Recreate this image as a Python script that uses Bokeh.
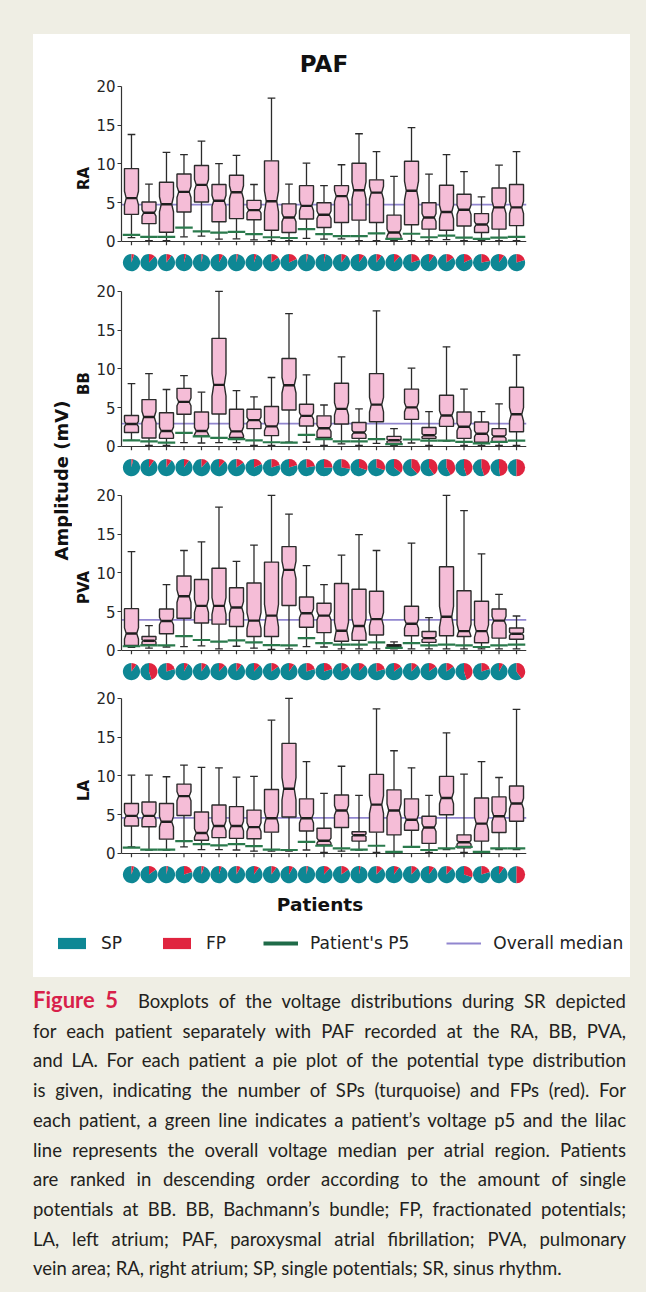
import numpy as np
from math import pi
from bokeh.plotting import figure
from bokeh.models import (FixedTicker, Legend, LegendItem, Label, Spacer, Div,
                          Range1d, Span, ColumnDataSource)
from bokeh.layouts import column, row
from bokeh.embed import file_html
from bokeh.resources import INLINE

# ---------------- data ----------------
patients = list(range(1, 24))

ra_wlo = [0.5, 0.1, 0.1, 0.6, 0.7, 0.3, 0.35, 0.2, 0.1, 0.1, 0.4, 0.3, 0.35, 0.1, 0.1, 0.1, 0.1, 0.1, 0.25, 0.1, 0.1, 0.1, 0.1]
ra_q1 = [3.5, 2.3, 1.2, 3.8, 5.1, 2.55, 2.95, 2.8, 1.45, 1.15, 2.9, 1.8, 2.45, 2.75, 2.45, 0.3, 2.15, 1.6, 1.45, 2.0, 1.15, 1.6, 2.05]
ra_med = [5.6, 3.7, 4.8, 6.4, 7.3, 5.25, 6.35, 4.05, 5.2, 3.1, 4.6, 3.45, 5.85, 6.6, 6.3, 1.15, 6.55, 3.1, 3.8, 4.1, 2.2, 4.4, 4.4]
ra_q3 = [9.4, 5.1, 7.65, 8.7, 9.8, 7.35, 8.55, 5.3, 10.4, 4.85, 7.2, 5.0, 7.2, 10.1, 7.95, 3.4, 10.35, 5.0, 7.25, 6.1, 3.6, 6.9, 7.35]
ra_whi = [13.8, 7.4, 11.5, 11.2, 12.95, 10.05, 11.1, 7.35, 18.5, 7.4, 10.1, 7.2, 9.9, 13.9, 11.6, 8.4, 14.7, 8.7, 11.2, 9.0, 5.75, 9.85, 11.6]
ra_p5 = [0.85, 0.6, 0.6, 1.8, 1.3, 1.15, 1.25, 0.95, 0.55, 0.45, 1.6, 0.95, 0.7, 0.7, 1.05, 0.35, 1.0, 0.55, 0.75, 0.5, 0.35, 0.5, 0.6]
ra_fp = [0.05, 0.12, 0.1, 0.04, 0.03, 0.08, 0.03, 0.05, 0.15, 0.18, 0.03, 0.03, 0.1, 0.1, 0.1, 0.12, 0.2, 0.1, 0.15, 0.18, 0.22, 0.1, 0.2]
ra_overall = 4.75

bb_wlo = [0.8, 0.15, 0.15, 0.5, 0.45, 0.5, 0.5, 0.15, 0.15, 0.55, 0.55, 0.15, 0.35, 0.15, 0.4, 0.15, 0.45, 0.15, 0.7, 0.15, 0.15, 0.15, 0.15]
bb_q1 = [1.8, 1.1, 1.05, 4.15, 1.35, 4.2, 1.15, 2.3, 1.4, 4.7, 2.65, 1.15, 2.9, 1.05, 3.2, 0.4, 3.5, 1.05, 2.6, 1.05, 0.55, 0.6, 1.9]
bb_med = [2.9, 3.8, 2.0, 5.75, 2.0, 7.95, 1.95, 3.4, 2.6, 7.9, 3.95, 2.35, 4.85, 1.8, 5.4, 0.8, 5.05, 1.45, 4.0, 2.55, 1.65, 1.3, 4.15]
bb_q3 = [4.0, 6.05, 4.35, 7.5, 4.45, 13.95, 4.8, 4.8, 5.15, 11.35, 5.45, 3.95, 8.15, 3.1, 9.4, 1.3, 7.4, 2.45, 6.6, 4.45, 3.15, 2.3, 7.65]
bb_whi = [8.1, 9.4, 7.35, 9.15, 7.0, 20.0, 7.2, 6.4, 8.9, 17.15, 9.25, 5.35, 11.55, 4.85, 17.5, 2.3, 10.1, 4.5, 12.85, 7.4, 4.5, 5.5, 11.8]
bb_p5 = [0.8, 0.65, 0.5, 1.75, 1.3, 1.1, 0.95, 0.8, 0.55, 0.5, 1.5, 0.95, 0.65, 0.65, 0.95, 0.3, 0.9, 0.75, 0.75, 0.6, 0.4, 0.6, 0.75]
bb_fp = [0.03, 0.1, 0.1, 0.1, 0.12, 0.12, 0.15, 0.18, 0.2, 0.2, 0.22, 0.25, 0.27, 0.3, 0.3, 0.35, 0.38, 0.4, 0.42, 0.45, 0.45, 0.48, 0.5]
bb_overall = 2.95

pva_wlo = [0.4, 0.3, 0.45, 0.5, 0.6, 0.2, 0.55, 0.3, 0.15, 0.2, 0.5, 0.45, 0.2, 0.2, 0.2, 0.2, 0.2, 0.2, 0.2, 0.2, 0.2, 0.2, 0.2]
pva_q1 = [0.65, 0.75, 2.15, 4.15, 3.55, 3.4, 3.1, 1.8, 1.8, 5.8, 3.0, 2.3, 1.2, 1.3, 2.0, 0.35, 1.9, 1.05, 1.9, 1.8, 1.0, 1.6, 1.45]
pva_med = [2.2, 1.25, 3.8, 7.0, 5.75, 5.75, 5.55, 3.85, 4.5, 10.4, 4.8, 4.5, 2.55, 3.15, 4.05, 0.55, 3.45, 1.6, 4.35, 2.5, 2.5, 3.85, 2.15]
pva_q3 = [5.4, 1.8, 5.35, 9.6, 9.15, 10.6, 8.1, 8.7, 11.4, 13.4, 6.9, 6.1, 8.65, 7.9, 7.65, 0.75, 5.7, 2.45, 10.8, 7.7, 6.35, 5.35, 2.9]
pva_whi = [12.75, 3.2, 8.5, 12.9, 14.0, 18.5, 11.5, 13.6, 20.0, 17.6, 10.95, 8.5, 12.3, 14.95, 12.9, 1.1, 13.85, 4.25, 20.0, 18.05, 12.45, 7.25, 4.45]
pva_p5 = [0.55, 0.65, 0.65, 1.85, 1.35, 1.15, 1.3, 1.05, 0.7, 0.65, 1.6, 0.95, 0.75, 0.75, 1.05, 0.35, 0.95, 0.65, 0.75, 0.65, 0.45, 0.65, 0.75]
pva_fp = [0.1, 0.45, 0.2, 0.08, 0.1, 0.12, 0.1, 0.12, 0.15, 0.1, 0.2, 0.2, 0.15, 0.12, 0.2, 0.15, 0.12, 0.15, 0.15, 0.45, 0.2, 0.08, 0.4]
pva_overall = 3.95

la_wlo = [0.85, 0.45, 0.45, 0.85, 0.5, 0.5, 0.45, 0.3, 0.3, 0.3, 0.45, 0.15, 0.3, 0.45, 0.15, 0.15, 0.85, 0.15, 0.5, 0.15, 0.15, 0.5, 0.5]
la_q1 = [3.55, 3.45, 1.85, 4.9, 1.7, 2.05, 1.95, 1.9, 2.75, 4.7, 2.9, 1.1, 3.35, 1.6, 2.75, 2.4, 3.0, 1.3, 5.0, 0.75, 1.6, 2.7, 4.15]
la_med = [4.85, 4.85, 4.1, 7.4, 2.65, 3.55, 3.55, 3.4, 4.55, 8.35, 4.55, 1.65, 5.55, 2.35, 6.3, 5.55, 4.35, 3.35, 7.15, 1.45, 3.85, 4.8, 6.45]
la_q3 = [6.45, 6.65, 6.45, 8.95, 5.35, 6.25, 6.05, 5.6, 8.25, 14.2, 7.05, 3.25, 7.55, 2.8, 10.2, 8.2, 7.05, 4.8, 9.95, 2.4, 7.15, 7.3, 8.7]
la_whi = [10.1, 10.1, 9.9, 11.4, 11.1, 11.05, 9.85, 9.95, 17.2, 20.0, 11.85, 7.75, 11.25, 7.5, 18.65, 13.25, 11.05, 7.5, 15.55, 10.25, 11.85, 9.8, 18.6]
la_p5 = [0.75, 0.5, 0.5, 1.6, 1.2, 1.05, 1.2, 0.95, 0.5, 0.45, 1.5, 1.0, 0.65, 0.5, 1.0, 0.2, 0.85, 0.45, 0.65, 0.85, 0.2, 0.65, 0.65]
la_fp = [0.05, 0.15, 0.03, 0.2, 0.05, 0.05, 0.08, 0.1, 0.1, 0.08, 0.03, 0.12, 0.15, 0.03, 0.12, 0.1, 0.12, 0.1, 0.12, 0.3, 0.2, 0.1, 0.5]
la_overall = 4.6

regions = ["RA", "BB", "PVA", "LA"]
y_ticks = [0, 5, 10, 15, 20]
legend_labels = ["SP", "FP", "Patient's P5", "Overall median"]

caption_lines = [
    "Boxplots of the voltage distributions during SR depicted",
    "for each patient separately with PAF recorded at the RA, BB, PVA,",
    "and LA. For each patient a pie plot of the potential type distribution",
    "is given, indicating the number of SPs (turquoise) and FPs (red). For",
    "each patient, a green line indicates a patient\u2019s voltage p5 and the lilac",
    "line represents the overall voltage median per atrial region. Patients",
    "are ranked in descending order according to the amount of single",
    "potentials at BB. BB, Bachmann\u2019s bundle; FP, fractionated potentials;",
    "LA, left atrium; PAF, paroxysmal atrial fibrillation; PVA, pulmonary",
    "vein area; RA, right atrium; SP, single potentials; SR, sinus rhythm.",
]

# ---------------- styles ----------------
PINK = "#f5bdd7"
EDGE = "#2b2b2b"
TEAL = "#0e8794"
RED = "#e0243f"
GREEN = "#2a7a4c"
LILAC = "#9186cf"
BEIGE = "#efeee4"
FONT = "DejaVu Sans"

series = {
    "RA": (ra_wlo, ra_q1, ra_med, ra_q3, ra_whi, ra_p5, ra_fp, ra_overall),
    "BB": (bb_wlo, bb_q1, bb_med, bb_q3, bb_whi, bb_p5, bb_fp, bb_overall),
    "PVA": (pva_wlo, pva_q1, pva_med, pva_q3, pva_whi, pva_p5, pva_fp, pva_overall),
    "LA": (la_wlo, la_q1, la_med, la_q3, la_whi, la_p5, la_fp, la_overall),
}

HW = 0.40      # box half width
NW = 0.30      # half width at the notch
CW = 0.22      # whisker cap half width
NOTCH = 0.15   # notch half height relative to the IQR
TICK = 0.5     # x tick length (data units, ~4px)
PIE_Y = -2.72  # pie row position below the axis
FRAME_W, FRAME_H = 405, 188
LEFT_B, RIGHT_B = 45, 104
AMP_W = 39
WHITE_W = 593


def make_panel(name, top_border, title=None):
    wlo, q1, med, q3, whi, p5, fp, overall = series[name]
    x = np.arange(len(patients), dtype=float)
    kw = dict(frame_width=FRAME_W, frame_height=FRAME_H,
              x_range=Range1d(-0.57, len(patients) - 1 + 0.57),
              y_range=Range1d(-4.0, 20.25),
              min_border_left=LEFT_B, min_border_right=RIGHT_B,
              min_border_top=top_border, min_border_bottom=8,
              toolbar_location=None, output_backend="svg",
              background_fill_color="white", border_fill_color="white")
    if title:
        kw["title"] = title
    p = figure(**kw)
    p.grid.visible = False
    p.outline_line_color = None
    if title:
        p.title.align = "center"
        p.title.text_font = FONT
        p.title.text_font_size = "23px"
        p.title.text_font_style = "bold"
        p.title.text_color = "#111111"
        p.title.standoff = 15

    p.add_layout(Span(location=overall, dimension="width", line_color=LILAC,
                      line_width=1.6, level="underlay"))

    # x tick marks below the axis
    p.segment(x0=x, y0=0, x1=x, y1=-TICK, line_color="#333333", line_width=1.2)

    # whiskers and caps
    p.segment(x0=x, y0=q3, x1=x, y1=whi, line_color=EDGE, line_width=1.3)
    p.segment(x0=x, y0=q1, x1=x, y1=wlo, line_color=EDGE, line_width=1.3)
    p.segment(x0=x - CW, y0=whi, x1=x + CW, y1=whi, line_color=EDGE, line_width=1.3)
    p.segment(x0=x - CW, y0=wlo, x1=x + CW, y1=wlo, line_color=EDGE, line_width=1.3)

    # notched boxes
    xs, ys = [], []
    for xi, a, m, b in zip(x, q1, med, q3):
        n = NOTCH * (b - a)
        lo, hi = max(m - n, a), min(m + n, b)
        xs.append([xi - HW, xi + HW, xi + HW, xi + NW, xi + HW, xi + HW,
                   xi - HW, xi - HW, xi - NW, xi - HW])
        ys.append([a, a, lo, m, hi, b, b, hi, m, lo])
    p.patches(xs=xs, ys=ys, fill_color=PINK, line_color=EDGE, line_width=1.4)
    p.segment(x0=x - NW, y0=med, x1=x + NW, y1=med, line_color="#1e1e1e", line_width=2.4)

    # patient's p5
    p.segment(x0=x - 0.5, y0=p5, x1=x + 0.5, y1=p5, line_color=GREEN, line_width=2.2)

    # pies: FP (red) clockwise from 12 o'clock, SP (teal) the rest
    fpa = np.array(fp)
    ang_split = pi / 2 - 2 * pi * fpa
    p.wedge(x=x, y=PIE_Y, radius=8.6, radius_units="screen",
            start_angle=np.full(len(x), pi / 2), end_angle=ang_split + 2 * pi,
            fill_color=TEAL, line_color=None)
    p.wedge(x=x, y=PIE_Y, radius=8.6, radius_units="screen",
            start_angle=ang_split, end_angle=np.full(len(x), pi / 2),
            fill_color=RED, line_color=None)

    # axes
    ya = p.yaxis[0]
    ya.ticker = FixedTicker(ticks=y_ticks)
    ya.bounds = (0, 20)
    ya.axis_label = name
    ya.axis_label_text_font = FONT
    ya.axis_label_text_font_style = "bold"
    ya.axis_label_text_font_size = "15px"
    ya.axis_label_text_color = "#111111"
    ya.axis_label_standoff = 0
    ya.major_label_text_font = FONT
    ya.major_label_text_font_size = "15px"
    ya.major_label_text_color = "#262626"
    ya.major_label_standoff = 2
    ya.major_tick_out = 4
    ya.major_tick_in = 0
    ya.minor_tick_out = 0
    ya.minor_tick_in = 0
    ya.axis_line_color = "#333333"
    ya.axis_line_width = 1.2
    ya.major_tick_line_color = "#333333"

    xa = p.xaxis[0]
    xa.fixed_location = 0
    xa.ticker = FixedTicker(ticks=[])
    xa.major_tick_out = 0
    xa.major_tick_in = 0
    xa.minor_tick_out = 0
    xa.minor_tick_in = 0
    xa.axis_line_color = "#333333"
    xa.axis_line_width = 1.2
    return p


p_ra = make_panel("RA", 50, title="PAF")
p_bb = make_panel("BB", 9)
p_pva = make_panel("PVA", 8)
p_la = make_panel("LA", 7)
panels = column(p_ra, p_bb, p_pva, p_la, styles={"background-color": "white"})
PANELS_H = (50 + FRAME_H + 8) + (9 + FRAME_H + 8) + (8 + FRAME_H + 8) + (7 + FRAME_H + 8)

# shared y label
amp = figure(width=AMP_W, height=PANELS_H, x_range=Range1d(0, AMP_W), y_range=Range1d(0, PANELS_H),
             toolbar_location=None, output_backend="svg", min_border=0,
             background_fill_color="white", border_fill_color="white")
amp.axis.visible = False
amp.grid.visible = False
amp.outline_line_color = None
amp.add_layout(Label(x=28, y=PANELS_H - (480 - 34), text="Amplitude (mV)", angle=pi / 2,
                     text_align="center", text_baseline="middle", text_line_height=1.0,
                     text_font=FONT, text_font_size="18px", text_font_style="bold",
                     text_color="#111111"))

# bottom: x label and legend
BOT_H = 85
bot = figure(width=WHITE_W, height=BOT_H, x_range=Range1d(0, WHITE_W), y_range=Range1d(0, BOT_H),
             toolbar_location=None, output_backend="svg", min_border=0,
             background_fill_color="white", border_fill_color="white")
bot.axis.visible = False
bot.grid.visible = False
bot.outline_line_color = None
bot.add_layout(Label(x=AMP_W + LEFT_B + FRAME_W / 2, y=BOT_H - 12, text="Patients",
                     text_align="center", text_baseline="middle",
                     text_font=FONT, text_font_size="18.5px", text_font_style="bold",
                     text_color="#111111"))
nan = float("nan")
dummy = ColumnDataSource(dict(l=[nan], r=[nan], b=[nan], t=[nan], x=[nan], y=[nan]))
r_sp = bot.quad(left="l", right="r", bottom="b", top="t", source=dummy, fill_color=TEAL, line_color=None)
r_fp = bot.quad(left="l", right="r", bottom="b", top="t", source=dummy, fill_color=RED, line_color=None)
r_p5 = bot.line(x="x", y="y", source=dummy, line_color="#1f6b48", line_width=4)
r_om = bot.line(x="x", y="y", source=dummy, line_color=LILAC, line_width=2)
legend = Legend(items=[LegendItem(label=lab, renderers=[r]) for lab, r in
                       zip(legend_labels, [r_sp, r_fp, r_p5, r_om])],
                orientation="horizontal", location=(21, 24),
                glyph_width=35, glyph_height=14, label_standoff=12, spacing=37,
                padding=0, margin=0, border_line_color=None, background_fill_alpha=0,
                label_text_font=FONT, label_text_font_size="17px", label_text_color="#222222")
bot.add_layout(legend, "center")

# caption
cap_html = ['<div style="font-family:Lato;font-size:18.5px;line-height:29.7px;color:#231f20;width:593px;">']
for i, line in enumerate(caption_lines):
    last = i == len(caption_lines) - 1
    align = "text-align:left;" if last else "text-align:justify;text-align-last:justify;"
    txt = line
    if i == 0:
        txt = '<b style="color:#d81f4a;font-size:22px;">Figure&nbsp;5</b>&nbsp; ' + line
    cap_html.append('<div style="white-space:nowrap;%s">%s</div>' % (align, txt))
cap_html.append("</div>")
caption = Div(text="".join(cap_html), width=WHITE_W, height=300, margin=0)

white = column(row(amp, panels), bot, styles={"background-color": "white"})

layout = column(
    Spacer(width=646, height=34),
    row(Spacer(width=33, height=PANELS_H + BOT_H), white),
    Spacer(width=646, height=8),
    row(Spacer(width=33, height=300), caption),
)

html = file_html(layout, INLINE, title="PAF boxplots")
html = html.replace("</head>",
                    "<style>html,body{background-color:%s;margin:0;padding:0;}</style></head>" % BEIGE, 1)
open("out.html", "w").write(html)
